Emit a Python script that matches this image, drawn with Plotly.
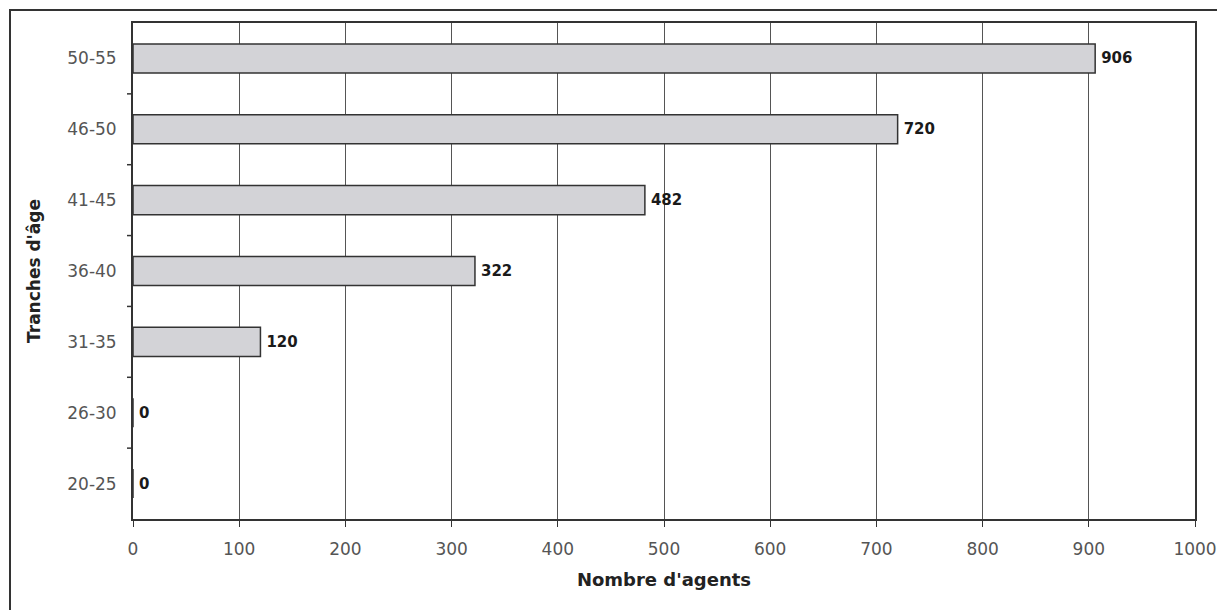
import plotly.graph_objects as go

categories = ["20-25", "26-30", "31-35", "36-40", "41-45", "46-50", "50-55"]
values = [0, 0, 120, 322, 482, 720, 906]
x_ticks = [0, 100, 200, 300, 400, 500, 600, 700, 800, 900, 1000]

FONT = "DejaVu Sans, Arial, sans-serif"

fig = go.Figure()
fig.add_trace(go.Bar(
    y=categories, x=values, orientation="h",
    marker=dict(color="#d3d3d7", line=dict(color="#333333", width=1.5)),
    text=["\u2009" + str(v) for v in values], textposition="outside",
    textfont=dict(family=FONT, size=15, color="#1a1a1a", weight="bold"),
    cliponaxis=False, width=0.41,
))

W, H = 1217, 602
L, T = 125, 15
PW, PH = 1062, 496
R, B = W - L - PW, H - T - PH
fig.update_layout(
    width=W, height=H,
    margin=dict(l=L, r=R, t=T, b=B, autoexpand=False),
    paper_bgcolor="white", plot_bgcolor="white",
    showlegend=False,
    font=dict(family=FONT, size=17, color="#555555"),
    xaxis=dict(
        range=[0, 1000], tickvals=x_ticks, ticktext=[str(t) for t in x_ticks],
        showgrid=True, gridcolor="#555555", gridwidth=1.2,
        showline=True, linecolor="#333333", linewidth=1.8, mirror=True,
        ticks="outside", ticklen=6, tickcolor="#333333",
        tickfont=dict(size=17), ticklabelstandoff=8,
        zeroline=False, automargin=False,
        title=dict(text="<b>Nombre d'agents</b>", font=dict(size=18, color="#222222"), standoff=15),
    ),
    yaxis=dict(
        categoryorder="array", categoryarray=categories,
        range=[-0.5, 6.5],
        showgrid=False,
        showline=True, linecolor="#333333", linewidth=1.8, mirror=True,
        ticks="", ticklabelstandoff=11,
        tickfont=dict(size=17), automargin=False,
        title=dict(text="<b>Tranches d'âge</b>", font=dict(size=17, color="#222222"), standoff=22),
    ),
    bargap=0.59,
)

# tick marks between categories on the left axis
for i in range(len(categories) - 1):
    fig.add_shape(type="line", xref="paper", yref="y",
                  x0=-6 / PW, x1=0, y0=i + 0.5, y1=i + 0.5,
                  line=dict(color="#333333", width=1.5))

# outer frame
fig.add_shape(type="rect", xref="paper", yref="paper",
              x0=(2 - L) / PW, x1=(1213 - L) / PW,
              y0=-(B + 40) / PH, y1=(PH + T - 2) / PH,
              line=dict(color="#333333", width=2), fillcolor="rgba(0,0,0,0)", layer="below")

fig.write_html("out.html")
